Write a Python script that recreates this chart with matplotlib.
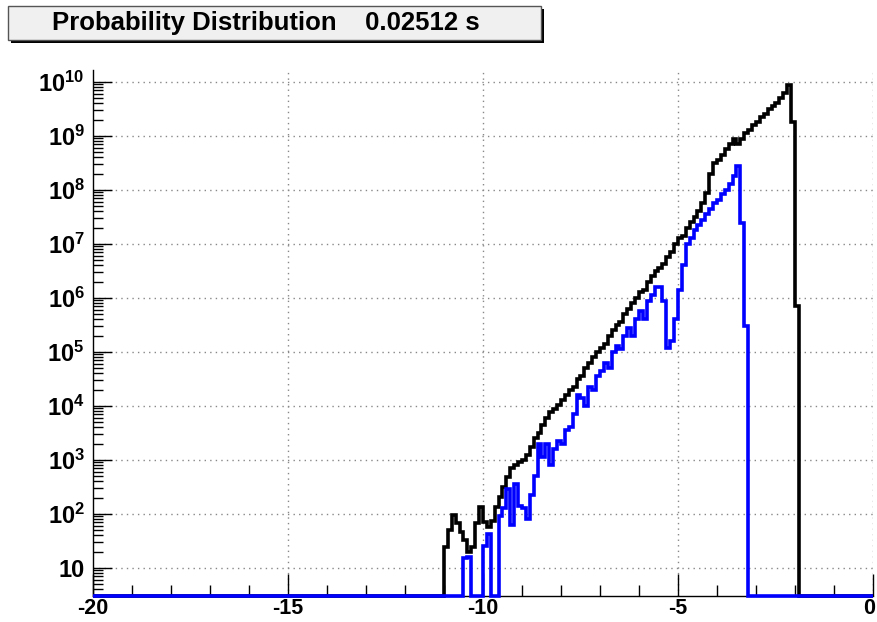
import numpy as np
import matplotlib.pyplot as plt
from matplotlib.patches import Rectangle
from matplotlib.ticker import FixedLocator, MultipleLocator, NullFormatter
from matplotlib.transforms import ScaledTranslation

plt.rcParams['font.family'] = 'Liberation Sans'
plt.rcParams['font.weight'] = 'bold'
plt.rcParams['mathtext.fontset'] = 'custom'
plt.rcParams['mathtext.rm'] = 'Liberation Sans:bold'
plt.rcParams['mathtext.bf'] = 'Liberation Sans:bold'

# histogramas: 200 bins de largura 0.1 entre -20 e 0
bin_edges = np.linspace(-20, 0, 201)

# log10 do conteudo de cada bin (0 = bin vazio)
black_start = -11.0
black_log10 = [
    1.39, 1.70, 1.98, 1.83, 1.67, 1.52, 1.30, 1.39, 1.83, 2.13,
    1.85, 1.76, 1.87, 2.13, 2.31, 2.50, 2.69, 2.85, 2.90, 2.95,
    3.00, 3.09, 3.24, 3.40, 3.50, 3.65, 3.78, 3.88, 3.95, 4.02,
    4.10, 4.20, 4.30, 4.35, 4.50, 4.55, 4.70, 4.80, 4.90, 5.00,
    5.08, 5.15, 5.30, 5.40, 5.50, 5.55, 5.70, 5.80, 5.90, 6.00,
    6.10, 6.15, 6.30, 6.40, 6.50, 6.55, 6.62, 6.75, 6.85, 7.00,
    7.10, 7.15, 7.30, 7.40, 7.50, 7.60, 7.75, 7.95, 8.30, 8.50,
    8.55, 8.65, 8.75, 8.85, 8.95, 8.85, 8.95, 9.05, 9.10, 9.20,
    9.25, 9.35, 9.40, 9.50, 9.55, 9.60, 9.70, 9.80, 9.95, 9.25,
    5.85,
]

blue_start = -10.5
blue_log10 = [
    1.18, 1.20, 0, 0, 0, 1.40, 1.62, 0, 0, 1.95,
    2.10, 2.45, 1.80, 2.55, 2.15, 2.10, 1.90, 2.35, 2.70, 3.30,
    3.05, 3.30, 2.90, 3.20, 3.35, 3.30, 3.55, 3.60, 3.85, 4.20,
    4.15, 4.00, 4.35, 4.30, 4.55, 4.65, 4.80, 4.70, 5.00, 5.10,
    5.05, 5.30, 5.45, 5.30, 5.60, 5.75, 5.60, 5.95, 6.05, 6.20,
    6.20, 5.95, 5.07, 5.20, 5.60, 6.15, 6.60, 7.00, 7.10, 7.25,
    7.35, 7.45, 7.55, 7.65, 7.75, 7.82, 7.92, 8.00, 8.10, 8.25,
    8.44, 7.38, 5.47,
]

y_decades = list(range(1, 11))
x_major = [-20, -15, -10, -5, 0]
title_text = 'Probability Distribution    0.02512 s'

ymin, ymax = 3.0, 1.66e10


def build_counts(start, logs):
    counts = np.zeros(len(bin_edges) - 1)
    i0 = int(round((start - bin_edges[0]) / 0.1))
    logs = np.array(logs, dtype=float)
    counts[i0:i0 + len(logs)] = np.where(logs > 0, 10.0 ** logs, 0.0)
    return counts


black_counts = build_counts(black_start, black_log10)
blue_counts = build_counts(blue_start, blue_log10)

W, H = 878, 622
fig = plt.figure(figsize=(W / 100, H / 100), dpi=100)
ax = fig.add_axes([93 / W, 1 - 596 / H, 780 / W, 526 / H])
ax.set_yscale('log')
ax.set_xlim(-20, 0)
ax.set_ylim(ymin, ymax)

# bins vazios ficam desenhados no fundo do eixo (como no ROOT)
for counts, color in [(black_counts, 'black'), (blue_counts, '#0000ff')]:
    shown = np.where(counts > 0, counts, ymin)
    ax.stairs(shown, bin_edges, color=color, linewidth=2.6, baseline=None,
              clip_on=False, zorder=3)

# grade pontilhada
for d in y_decades:
    ax.axhline(10.0 ** d, color='#888888', linestyle=(0, (1, 3)), linewidth=1, zorder=1)
for xv in x_major[1:]:
    ax.axvline(xv, color='#888888', linestyle=(0, (1, 3)), linewidth=1, zorder=1)

for s in ['top', 'right']:
    ax.spines[s].set_visible(False)
ax.spines['left'].set_linewidth(1)
ax.spines['bottom'].set_linewidth(1)

ax.xaxis.set_major_locator(FixedLocator(x_major))
ax.xaxis.set_minor_locator(MultipleLocator(1))
ax.set_xticklabels([str(v) for v in x_major])

ax.yaxis.set_major_locator(FixedLocator([10.0 ** d for d in y_decades]))
minor = [m * 10.0 ** d for d in range(0, 10) for m in range(2, 10)]
ax.yaxis.set_minor_locator(FixedLocator([v for v in minor if ymin <= v <= ymax]))
ax.yaxis.set_minor_formatter(NullFormatter())
ax.set_yticklabels(['10' if d == 1 else r'$\mathbf{10^{%d}}$' % d for d in y_decades])

ax.tick_params(which='both', direction='in', top=False, right=False, width=1)
ax.tick_params(axis='x', which='major', length=16, pad=1.5, labelsize=15.5)
ax.tick_params(axis='x', which='minor', length=8)
ax.tick_params(axis='y', which='major', length=14, pad=6, labelsize=17)
ax.tick_params(axis='y', which='minor', length=7)

# o "0" fica encostado na borda direita
last = ax.get_xticklabels()[-1]
last.set_transform(last.get_transform() + ScaledTranslation(-4 / 100, 0, fig.dpi_scale_trans))

# caixa do titulo
fig.patches.append(Rectangle((11 / W, 1 - 43 / H), 533 / W, 34 / H,
                             transform=fig.transFigure, facecolor='black',
                             edgecolor='none', zorder=0))
fig.patches.append(Rectangle((8 / W, 1 - 40 / H), 533 / W, 34 / H,
                             transform=fig.transFigure, facecolor='#f0f0f0',
                             edgecolor='#555555', linewidth=1, zorder=1))
fig.text(266 / W, 1 - 23 / H, title_text, ha='center', va='center',
         fontsize=18.5, fontweight='bold')

fig.savefig('out.png', dpi=100)
